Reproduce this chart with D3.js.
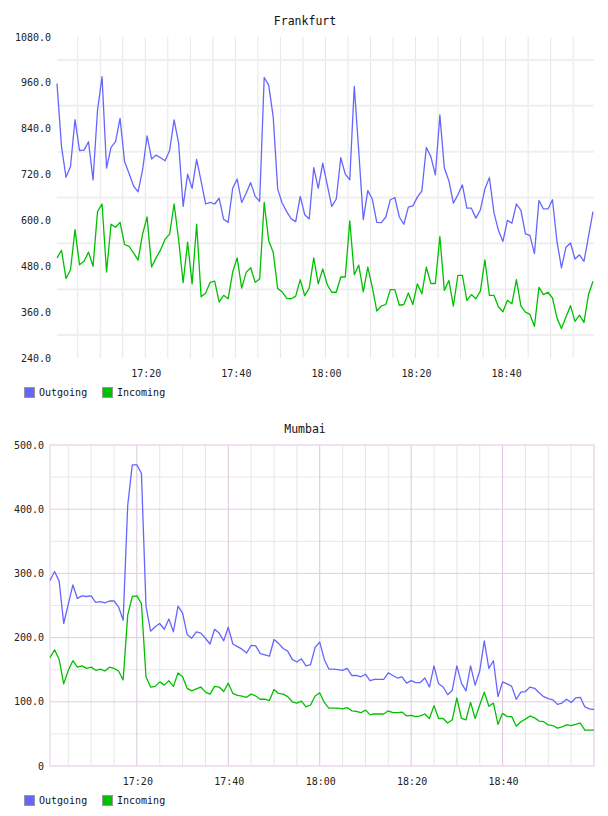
<!DOCTYPE html>
<html>
<head>
<meta charset="utf-8">
<script src="https://cdn.jsdelivr.net/npm/d3@7"></script>
<style>
  body { margin: 0; background: #fff; }
  svg { display: block; }
  .title { font-family: "DejaVu Sans Mono", monospace; font-size: 11.5px; fill: #111; }
  .legend text { font-family: "DejaVu Sans Mono", monospace; font-size: 10px; fill: #111; }
  .tick-label { font-family: "DejaVu Sans Mono", monospace; font-size: 10px; fill: #222; }
</style>
</head>
<body>
<svg id="chart" width="608" height="816"></svg>
<script>
// Frankfurt, one value per minute
var frankfurtOut = [958, 793, 713, 741, 864, 783, 784, 806, 706, 889, 976, 737, 791, 806, 867, 754, 723, 690, 675, 732,
  821, 761, 771, 764, 756, 783, 863, 802, 637, 721, 684, 760, 702, 643, 647, 643, 658, 603, 595, 684,
  708, 647, 671, 699, 663, 650, 974, 954, 871, 682, 645, 623, 604, 597, 663, 615, 604, 738, 684, 750,
  693, 637, 656, 764, 721, 706, 951, 780, 602, 678, 656, 595, 594, 609, 654, 660, 609, 590, 635, 638,
  661, 677, 791, 767, 719, 876, 737, 704, 645, 667, 693, 632, 632, 606, 628, 682, 712, 621, 574, 545,
  600, 593, 643, 626, 565, 561, 513, 652, 630, 630, 654, 545, 476, 530, 541, 499, 510, 493, 558, 623]
var frankfurtIn = [502, 522, 448, 471, 576, 484, 493, 517, 480, 623, 643, 465, 590, 582, 595, 537, 532, 515, 496, 564,
  609, 478, 502, 523, 551, 564, 643, 550, 437, 543, 434, 590, 400, 410, 438, 441, 387, 404, 395, 465,
  502, 423, 464, 476, 438, 447, 647, 547, 517, 422, 413, 396, 395, 402, 445, 403, 423, 502, 434, 473,
  432, 412, 412, 452, 452, 599, 458, 483, 413, 478, 425, 363, 376, 380, 419, 419, 378, 380, 410, 380,
  434, 408, 478, 435, 435, 558, 417, 443, 376, 456, 456, 391, 406, 395, 415, 497, 404, 404, 374, 361,
  391, 382, 445, 376, 360, 354, 323, 425, 406, 412, 397, 345, 317, 347, 377, 336, 352, 333, 406, 441]

// Mumbai, one value per minute
var mumbaiOut = [289, 303, 288, 222, 252, 282, 261, 265, 264, 265, 255, 256, 254, 257, 257, 248, 227, 406, 469, 469,
  456, 249, 210, 217, 222, 213, 229, 209, 249, 238, 205, 199, 209, 207, 199, 190, 213, 207, 195, 216,
  190, 186, 182, 176, 188, 187, 175, 173, 171, 197, 191, 183, 179, 166, 162, 167, 156, 158, 185, 193,
  166, 151, 151, 150, 149, 152, 141, 141, 139, 143, 133, 135, 135, 135, 145, 141, 137, 139, 129, 133,
  130, 130, 137, 123, 156, 128, 123, 111, 118, 156, 129, 117, 156, 126, 148, 195, 152, 164, 108, 131,
  128, 124, 104, 115, 116, 123, 121, 114, 108, 105, 103, 96, 98, 104, 99, 106, 107, 92, 89, 88]
var mumbaiIn = [169, 181, 166, 128, 149, 164, 154, 156, 152, 154, 149, 151, 148, 154, 152, 148, 134, 235, 264, 265,
  253, 139, 123, 124, 131, 126, 133, 124, 145, 139, 121, 117, 120, 123, 115, 112, 124, 123, 116, 129,
  113, 110, 109, 107, 112, 109, 104, 104, 102, 119, 113, 112, 108, 100, 98, 101, 92, 95, 109, 114,
  99, 90, 90, 90, 89, 91, 86, 85, 83, 87, 80, 81, 81, 81, 86, 83, 83, 84, 78, 79,
  77, 78, 81, 74, 94, 74, 74, 67, 72, 106, 74, 72, 99, 74, 95, 115, 93, 98, 65, 82,
  77, 77, 62, 69, 73, 78, 75, 70, 69, 64, 63, 59, 61, 64, 63, 65, 67, 56, 56, 56]

var seriesNames = ['Outgoing', 'Incoming']
var seriesColors = ['#6666ff', '#00c000']

var frankfurtTicks = [240, 360, 480, 600, 720, 840, 960, 1080]
var frankfurtGrid = [300, 420, 540, 660, 780, 900, 1020]
var mumbaiTicks = [0, 100, 200, 300, 400, 500]
var mumbaiGrid = [50, 150, 250, 350, 450]

var frankfurtStart = new Date(2020, 0, 1, 17, 0, 24)
var mumbaiStart = new Date(2020, 0, 1, 17, 1, 0)

var svg = d3.select('#chart')

function timesFrom (start, n) {
  return d3.range(n).map(function (i) { return d3.timeMinute.offset(start, i) })
}

function fmtValue (v) {
  return v === 0 ? '0' : v.toFixed(1)
}

function drawChart (conf) {
  var g = svg.append('g')
  var times = timesFrom(conf.start, conf.series[0].length)

  var x = d3.scaleTime()
    .domain(d3.extent(times))
    .range([conf.left, conf.right])

  var y = d3.scaleLinear()
    .domain([conf.yTicks[0], conf.yTicks[conf.yTicks.length - 1]])
    .range([conf.bottom, conf.top])

  var fiveMin = x.ticks(d3.timeMinute.every(5))
  var twentyMin = x.ticks(d3.timeMinute.every(20))

  // Title
  g.append('text')
    .attr('class', 'title')
    .attr('x', 305)
    .attr('y', conf.titleY)
    .attr('text-anchor', 'middle')
    .text(conf.title)

  // Grid: minor
  g.selectAll('line.vminor')
    .data(fiveMin.filter(function (d) { return !conf.framed || d.getMinutes() % 20 !== 0 }))
    .enter().append('line')
    .attr('x1', function (d) { return x(d) })
    .attr('x2', function (d) { return x(d) })
    .attr('y1', conf.top)
    .attr('y2', conf.bottom)
    .attr('stroke', '#e6e6e6')
    .attr('stroke-width', 1)

  g.selectAll('line.hminor')
    .data(conf.yGrid)
    .enter().append('line')
    .attr('x1', conf.left)
    .attr('x2', conf.gridRight)
    .attr('y1', function (d) { return y(d) })
    .attr('y2', function (d) { return y(d) })
    .attr('stroke', conf.framed ? '#e8e8e8' : '#efefef')
    .attr('stroke-width', conf.framed ? 1 : 2)

  // Grid: major (framed chart only)
  if (conf.framed) {
    g.selectAll('line.vmajor')
      .data(twentyMin)
      .enter().append('line')
      .attr('x1', function (d) { return x(d) })
      .attr('x2', function (d) { return x(d) })
      .attr('y1', conf.top)
      .attr('y2', conf.bottom)
      .attr('stroke', '#dcc6dc')
      .attr('stroke-width', 1)

    g.selectAll('line.hmajor')
      .data(conf.yTicks)
      .enter().append('line')
      .attr('x1', conf.left)
      .attr('x2', conf.gridRight)
      .attr('y1', function (d) { return y(d) })
      .attr('y2', function (d) { return y(d) })
      .attr('stroke', '#e2cce2')
      .attr('stroke-width', 1)

    g.append('rect')
      .attr('x', conf.left)
      .attr('y', conf.top)
      .attr('width', conf.gridRight - conf.left)
      .attr('height', conf.bottom - conf.top)
      .attr('fill', 'none')
      .attr('stroke', '#eedfee')
      .attr('stroke-width', 1.5)
  }

  // Y labels
  g.selectAll('text.ylabel')
    .data(conf.yTicks)
    .enter().append('text')
    .attr('class', 'tick-label')
    .attr('x', conf.left - 6)
    .attr('y', function (d) { return y(d) + 3.5 })
    .attr('text-anchor', 'end')
    .text(fmtValue)

  // X labels
  g.selectAll('text.xlabel')
    .data(twentyMin.filter(function (d) { return x(d) < conf.right - 20 }))
    .enter().append('text')
    .attr('class', 'tick-label')
    .attr('x', function (d) { return x(d) + 1 })
    .attr('y', conf.xLabelY)
    .attr('text-anchor', 'middle')
    .text(d3.timeFormat('%H:%M'))

  // Lines
  var line = d3.line()
    .x(function (d, i) { return x(times[i]) })
    .y(function (d) { return y(d) })

  conf.series.forEach(function (values, k) {
    g.append('path')
      .datum(values)
      .attr('d', line)
      .attr('fill', 'none')
      .attr('stroke', seriesColors[k])
      .attr('stroke-width', 1.3)
      .attr('stroke-linejoin', 'round')
  })

  // Legend
  var legend = g.append('g')
    .attr('class', 'legend')
    .attr('transform', 'translate(24, ' + conf.legendY + ')')

  var items = legend.selectAll('g')
    .data(seriesNames)
    .enter().append('g')
    .attr('transform', function (d, i) { return 'translate(' + (i * 78) + ', 0)' })

  items.append('rect')
    .attr('x', 0.5)
    .attr('y', 0.5)
    .attr('width', 10)
    .attr('height', 10)
    .attr('fill', function (d, i) { return seriesColors[i] })
    .attr('stroke', '#999')
    .attr('stroke-width', 1)

  items.append('text')
    .attr('x', 15)
    .attr('y', 9)
    .text(function (d) { return d })
}

drawChart({
  title: 'Frankfurt',
  series: [frankfurtOut, frankfurtIn],
  start: frankfurtStart,
  yTicks: frankfurtTicks,
  yGrid: frankfurtGrid,
  left: 57, right: 593, gridRight: 594, top: 37, bottom: 358,
  titleY: 25, xLabelY: 377, legendY: 387,
  framed: false
})

drawChart({
  title: 'Mumbai',
  series: [mumbaiOut, mumbaiIn],
  start: mumbaiStart,
  yTicks: mumbaiTicks,
  yGrid: mumbaiGrid,
  left: 50, right: 594, gridRight: 594, top: 445, bottom: 766,
  titleY: 433, xLabelY: 785, legendY: 795,
  framed: true
})
</script>
</body>
</html>
